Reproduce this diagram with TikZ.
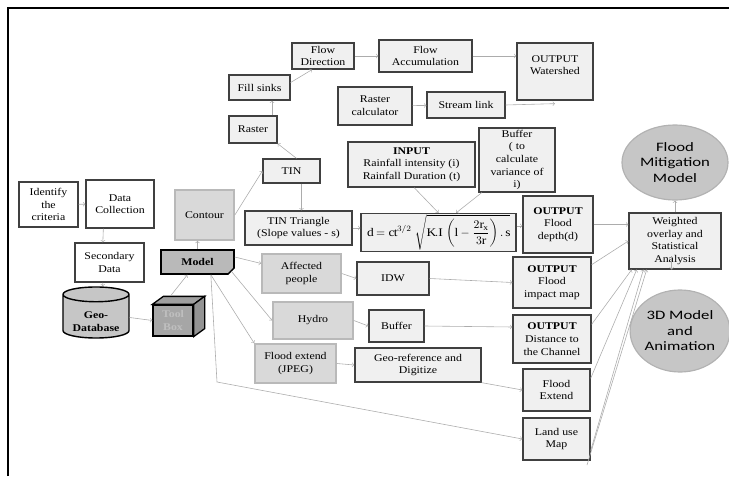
\documentclass[tikz,border=0pt]{standalone}
\usepackage{fontspec}
\setmainfont[FakeStretch=1.15]{Liberation Serif}
\newfontfamily\ovalfont[FakeStretch=1.3]{Carlito}
\usetikzlibrary{shapes.geometric,shapes.misc}

\begin{document}
\begin{tikzpicture}[x=0.03cm,y=-0.03cm]

% definitions
\tikzstyle{whitebox} = [rectangle, draw=black!75, line width=1.1pt, fill=white, align=center, inner sep=1pt, font=\fontsize{8.8}{10.8}\selectfont]

\tikzstyle{greybox} = [whitebox, fill=gray!12]

\tikzstyle{themebox} = [whitebox, draw=gray!55, line width=1.4pt, fill=gray!30]

\tikzstyle{modelbox} = [chamfered rectangle, chamfered rectangle corners=south east, chamfered rectangle xsep=2pt, draw=black, line width=1.3pt, fill=gray!55, inner sep=1pt, font=\fontsize{8.8}{10.8}\selectfont\bfseries]

\tikzstyle{dbase} = [cylinder, shape border rotate=90, aspect=0.3, draw=black, line width=1.2pt, fill=gray!45, align=center, inner sep=1pt, font=\fontsize{8.8}{10.8}\selectfont\bfseries]

\tikzstyle{outcome} = [ellipse, draw=gray!60, line width=1pt, fill=gray!45, align=center, inner sep=0pt, font=\ovalfont\fontsize{11}{13.2}\selectfont]

\tikzstyle{arrow} = [->, >=to, draw=gray!65, line width=0.5pt]

\useasboundingbox (0,0) rectangle (729,476);
\draw [line width=1.6pt] (8,476) -- (8,8) -- (729,8);

% the graph
\node (ident) [whitebox, minimum width=1.77cm, minimum height=1.35cm] at (48.5,204.5) {Identify\\the\\criteria};
\node (datacol) [whitebox, minimum width=2.04cm, minimum height=1.44cm] at (120,204) {Data\\Collection};
\node (secdata) [whitebox, minimum width=2.07cm, minimum height=1.17cm] at (109.5,262.5) {Secondary\\Data};
\node (geodb) [dbase, minimum width=1.98cm, minimum height=1.53cm] at (96,317.5) {\\[2pt]Geo-\\Database};

\node (toolbox) [rectangle, draw=black, line width=1.1pt, fill=gray!70, align=center, minimum width=1.2cm, minimum height=0.93cm, font=\fontsize{8.8}{10.8}\selectfont\bfseries, text=gray!50] at (173,320.5) {Tool\\Box};
\draw [fill=gray!75, line width=1.1pt] (toolbox.north west) -- ++(11,-8) -- ([shift={(11,-8)}]toolbox.north east) -- (toolbox.north east) -- cycle;
\draw [fill=gray!85, line width=1.1pt] (toolbox.north east) -- ++(11,-8) -- ([shift={(11,-8)}]toolbox.south east) -- (toolbox.south east) -- cycle;
\coordinate (boxtop) at ([shift={(-2,-9)}]toolbox.north);

\node (model) [modelbox, minimum width=2.19cm, minimum height=0.72cm] at (197.5,262) {Model};
\node (contour) [themebox, minimum width=1.77cm, minimum height=1.5cm] at (204.5,215) {Contour};
\node (tin) [greybox, minimum width=1.71cm, minimum height=0.72cm] at (291.5,171) {TIN};
\node (raster) [greybox, minimum width=1.44cm, minimum height=0.81cm] at (253,129.5) {Raster};
\node (fillsinks) [greybox, minimum width=1.83cm, minimum height=0.75cm] at (259.5,87.5) {Fill sinks};
\node (flowdir) [greybox, minimum width=1.86cm, minimum height=0.78cm] at (323,56) {Flow\\Direction};
\node (flowacc) [greybox, minimum width=2.79cm, minimum height=0.96cm] at (425.5,56) {Flow\\Accumulation};
\node (watershed) [greybox, minimum width=2.28cm, minimum height=1.71cm] at (555,71.5) {OUTPUT\\Watershed\\~};
\node (rastercalc) [greybox, minimum width=2.22cm, minimum height=1.14cm] at (375,106) {Raster\\calculator};
\node (streamlink) [greybox, minimum width=2.34cm, minimum height=0.78cm] at (466,105) {Stream link};

\node (input) [greybox, minimum width=3.81cm, minimum height=1.35cm] at (411.5,164.5) {\textbf{INPUT}\\Rainfall intensity (i)\\Rainfall Duration (t)};
\node (bufvar) [greybox, minimum width=2.28cm, minimum height=1.92cm] at (517,160) {Buffer\\( to\\calculate\\variance of\\i)};
\node (tintri) [greybox, minimum width=3.21cm, minimum height=1.02cm] at (298.5,228) {TIN Triangle\\(Slope values - s)};
\node (formula) [greybox, minimum width=4.65cm, minimum height=1.11cm, font=\fontsize{10}{12}\selectfont] at (438.5,232.5) {$\mathrm{d} = \mathrm{ct}^{3/2}\;\sqrt{\displaystyle\mathrm{K.I}\,\left(\mathrm{l}-\frac{2\mathrm{r_x}}{3\mathrm{r}}\right).\,\mathrm{s}}$};
\node (depth) [greybox, minimum width=2.1cm, minimum height=1.71cm] at (558,224.5) {\textbf{OUTPUT}\\Flood\\depth(d)};

\node (affected) [themebox, minimum width=2.37cm, minimum height=1.17cm] at (301.5,273.5) {Affected\\people};
\node (idw) [greybox, minimum width=2.16cm, minimum height=0.99cm] at (393,278.5) {IDW};
\node (impact) [greybox, minimum width=2.34cm, minimum height=1.53cm] at (552,282.5) {\textbf{OUTPUT}\\Flood\\impact map};
\node (hydro) [themebox, minimum width=2.4cm, minimum height=1.11cm] at (313,320.5) {Hydro};
\node (buffer) [greybox, minimum width=1.65cm, minimum height=0.96cm] at (396.5,326) {Buffer};
\node (distance) [greybox, minimum width=2.34cm, minimum height=1.44cm] at (552,339) {\textbf{OUTPUT}\\Distance to\\the Channel};
\node (floodjpeg) [themebox, minimum width=2.43cm, minimum height=1.17cm] at (295.5,363.5) {Flood extend\\(JPEG)};
\node (georef) [greybox, minimum width=3.78cm, minimum height=1.02cm] at (418,365) {Geo-reference and\\Digitize};
\node (floodext) [greybox, minimum width=2.01cm, minimum height=1.26cm] at (556.5,390) {Flood\\Extend};
\node (landuse) [greybox, minimum width=2.01cm, minimum height=1.26cm] at (556.5,439) {Land use\\Map};

\node (wo) [greybox, minimum width=2.76cm, minimum height=1.68cm] at (675,241) {Weighted\\overlay and\\Statistical\\Analysis};
\node (mitig) [outcome, minimum width=3.18cm, minimum height=2.25cm] at (675,162.5) {Flood\\Mitigation\\Model};
\node (model3d) [outcome, minimum width=2.94cm, minimum height=2.46cm] at (680,331) {3D Model\\and\\Animation};

\coordinate (bend) at (217,382);
\coordinate (lowend) at (587,465);

\draw [arrow] (ident) -- (datacol);
\draw [arrow] ([xshift=-0.5cm]datacol.south) -- ([xshift=-0.2cm]secdata.north);
\draw [arrow] ([xshift=-0.2cm]secdata.south) -- ([xshift=0.2cm]geodb.north);
\draw [arrow] (geodb.east) -- (toolbox.west);
\draw [arrow] (boxtop) -- (model);
\draw [arrow] (model.north) -- (model.north |- contour.south);
\draw [arrow] (contour.east) -- (tin.west);
\draw [arrow] ([xshift=0.3cm]tin.south) -- ([xshift=0.3cm]tin.south |- tintri.north);
\draw [arrow] ([xshift=0.15cm]tin.north) -- (raster.south east);
\draw [arrow] ([xshift=0.57cm]raster.north) -- ([xshift=0.57cm]raster.north |- fillsinks.south);
\draw [arrow] ([yshift=0.15cm]fillsinks.east) -- ([xshift=-0.33cm]flowdir.south);
\draw [arrow] (flowdir) -- (flowacc);
\draw [arrow] (flowacc.east) -- (flowacc.east -| watershed.west);
\draw [arrow] (rastercalc) -- (streamlink);
\draw [arrow] (streamlink.east) -- ([yshift=-0.09cm]watershed.south);

\draw [arrow] (tintri.east) -- (tintri.east -| formula.west);
\draw [arrow] ([xshift=0.08cm]input.south) -- (formula.north);
\draw [arrow] ([xshift=0.1cm]bufvar.south west) -- ([xshift=0.53cm]formula.north);
\draw [arrow] ([yshift=0.2cm]formula.east) -- ([yshift=0.2cm]formula.east -| depth.west);
\draw [arrow] (depth.east) -- (depth.east -| wo.west);

\draw [arrow] ([yshift=0.15cm]model.east) -- ([yshift=0.3cm]affected.west);
\draw [arrow] (model.south east) -- (hydro.west);
\draw [arrow] ([xshift=0.4cm]model.south) -- (floodjpeg.north west);
\draw [arrow] ([xshift=0.4cm]model.south) -- (bend) -- (landuse.west);
\draw [arrow] (affected.east) -- (idw.west);
\draw [arrow] (idw.east) -- (impact.west);
\draw [arrow] (hydro.east) -- (buffer.west);
\draw [arrow] (buffer.east) -- ([yshift=0.36cm]distance.west);
\draw [arrow] (floodjpeg.east) -- (georef.west);
\draw [arrow] (georef.south east) -- (floodext.west);

\draw [arrow] ([yshift=-0.25cm]impact.north east) -- (wo.west);
\draw [arrow] ([yshift=-0.3cm]distance.north east) -- ([xshift=0.1cm]wo.south west);
\draw [arrow] ([yshift=-0.3cm]floodext.north east) -- ([xshift=0.25cm]wo.south west);
\draw [arrow] ([yshift=0.3cm]landuse.south east) -- ([xshift=0.45cm]wo.south west);
\draw [arrow] (lowend) -- ([xshift=0.55cm]wo.south west);
\draw [arrow] (wo.north) -- (mitig.south);
\draw [arrow] ([xshift=-0.1cm,yshift=0.4cm]wo.south) -- ([xshift=-0.1cm]wo.south);

\end{tikzpicture}
\end{document}
